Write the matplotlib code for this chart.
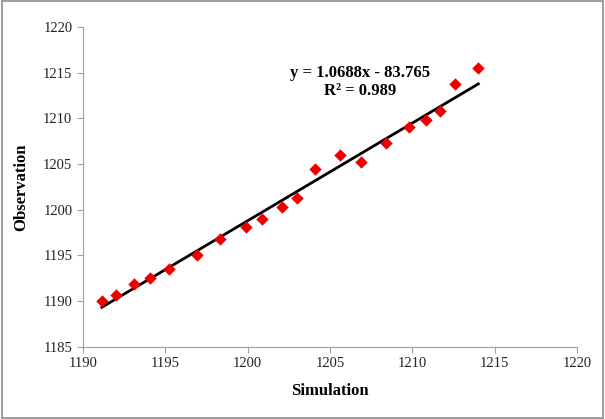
import matplotlib
matplotlib.use("Agg")
import matplotlib.pyplot as plt
import numpy as np

simulation = [1191.15, 1192.0, 1193.1, 1194.1, 1195.2, 1196.9, 1198.3, 1199.9, 1200.9, 1202.1,
              1203.0, 1204.1, 1205.6, 1206.9, 1208.4, 1209.8, 1210.8, 1211.7, 1212.6, 1214.0]
observation = [1190.0, 1190.7, 1191.9, 1192.5, 1193.5, 1195.1, 1196.8, 1198.1, 1199.0, 1200.3,
               1201.3, 1204.5, 1206.0, 1205.2, 1207.3, 1209.0, 1209.8, 1210.8, 1213.8, 1215.5]
slope, intercept, r2 = 1.0688, -83.765, 0.989
xticks = [1190, 1195, 1200, 1205, 1210, 1215, 1220]
yticks = [1185, 1190, 1195, 1200, 1205, 1210, 1215, 1220]

plt.rcParams['font.family'] = ['Liberation Serif', 'DejaVu Serif']

fig = plt.figure(figsize=(6.05, 4.19), dpi=100)
fig.patches.append(matplotlib.patches.Rectangle((0.003, 0.003), 0.994, 0.994, transform=fig.transFigure,
                                                fill=False, edgecolor='#8c8c8c', linewidth=1.2))
ax = fig.add_axes([0.137, 0.172, 0.817, 0.764])

xs = np.array([min(simulation), max(simulation)])
ax.plot(xs, slope * xs + intercept, color='black', linewidth=2, zorder=2)
ax.scatter(simulation, observation, marker='D', s=40, color='#ee0000', zorder=3, linewidths=0)

ax.set_xlim(1190, 1220)
ax.set_ylim(1185, 1220)
ax.set_xticks(xticks)
ax.set_yticks(yticks)
for s in ['top', 'right']:
    ax.spines[s].set_visible(False)
for s in ['left', 'bottom']:
    ax.spines[s].set_color('#a0a0a0')
ax.tick_params(axis='both', colors='#a0a0a0', labelcolor='#222222', labelsize=10.5, length=4, direction='out')
ax.set_xlabel('Simulation', fontsize=12, fontweight='bold', labelpad=9)
ax.set_ylabel('Observation', fontsize=12, fontweight='bold', labelpad=10)

ax.text(1206.8, 1215.0, 'y = 1.0688x - 83.765', ha='center', va='center', fontsize=12, fontweight='bold')
ax.text(1206.8, 1213.0, 'R² = 0.989', ha='center', va='center', fontsize=12, fontweight='bold')

fig.savefig('out.png', dpi=100)
